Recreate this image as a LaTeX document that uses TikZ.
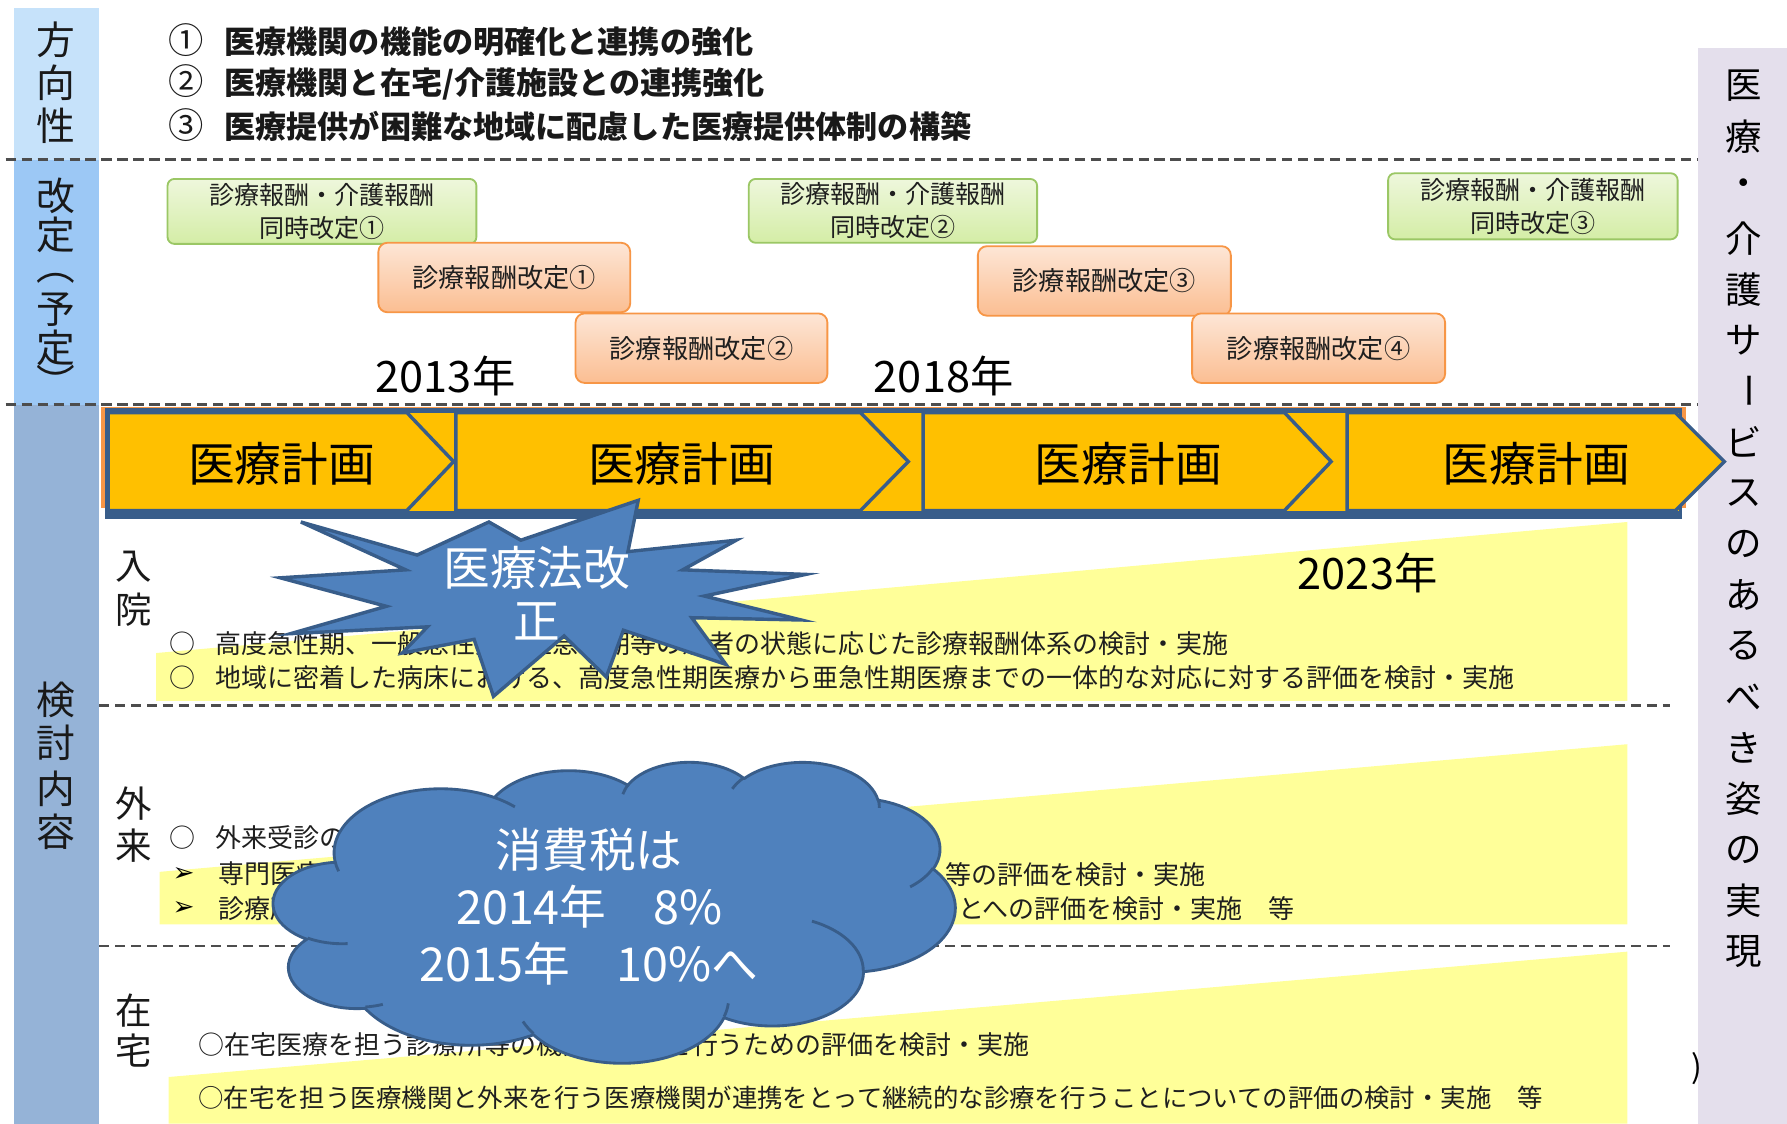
\documentclass[tikz,border=0pt]{standalone}
\usepackage{fontspec}
\newfontfamily\jp{Noto Sans CJK JP}
\newfontfamily\dejavu{DejaVu Sans}
\newcommand\fsz[2]{\fontsize{#1}{#2}\selectfont}
\newcommand\cnum[1]{{\mdseries\fsz{31}{31}#1}}
\definecolor{bandA}{HTML}{C6E2FA}
\definecolor{bandB}{HTML}{9CC8F5}
\definecolor{bandC}{HTML}{95B3D7}
\definecolor{lav}{HTML}{E4DFEC}
\definecolor{navy}{HTML}{385D8A}
\definecolor{gold}{HTML}{FFC000}
\definecolor{wedgec}{HTML}{FFFF99}
\definecolor{starblue}{HTML}{4F81BD}
\definecolor{grnT}{HTML}{EEF7DC}
\definecolor{grnB}{HTML}{D4EDA6}
\definecolor{grnD}{HTML}{9BC765}
\definecolor{orT}{HTML}{FDE6D6}
\definecolor{orB}{HTML}{FBBE92}
\definecolor{orD}{HTML}{F79646}
\definecolor{dashc}{HTML}{4D4D4D}
\definecolor{txtd}{HTML}{1F1F1F}
\tikzset{
  declare function={tp(\t,\a,\b)=atan2(\a*sin(\t),\b*cos(\t))+360*round((\t-atan2(\a*sin(\t),\b*cos(\t)))/360);},
  carc/.style n args={4}{insert path={arc[x radius={#1*0.13843}, y radius={#2*0.061111}, start angle={tp(#3,#1,#2)}, end angle={tp(#3+#4,#1,#2)}]}},
  dline/.style={draw=dashc, line width=2pt, dash pattern=on 9pt off 5pt},
  grnbox/.style={rounded corners=6pt, top color=grnT, bottom color=grnB, draw=grnD, line width=1.6pt, font=\jp\fsz{22}{29}, text=txtd, align=center},
  orbox/.style={rounded corners=8pt, top color=orT, bottom color=orB, draw=orD, line width=1.6pt, font=\jp\fsz{23}{23}, text=txtd},
  chev/.style={fill=gold, draw=navy, line width=3pt, line join=miter},
  chevtxt/.style={font=\jp\fsz{41}{41}, text=black},
  headtxt/.style={font=\jp\bfseries\fsz{27.3}{27.3}, anchor=west, text=black!90},
  bodytxt/.style={font=\jp\fsz{22.8}{22.8}, anchor=west, text=txtd},
  sidetxt/.style={font=\jp\fsz{34}{34}, text=black!90},
  sectxt/.style={font=\jp\fsz{32}{32}, text=black!90},
  yeartxt/.style={font=\jp\fsz{38}{38}, text=black},
  rtxt/.style={font=\jp\fsz{32}{32}, text=black},
  wtxt/.style={font=\jp\fsz{41}{50}, text=white, align=center},
  bullet/.style={font=\dejavu\fsz{23}{23}, text=black},
  cloudline/.style={draw=navy, line width=2.5pt, line join=round},
}
\begin{document}
\begin{tikzpicture}[x=1pt,y=-1pt, every node/.style={inner sep=0pt, outer sep=0pt}]
\useasboundingbox (0,0) rectangle (1568,986);
\fill[white] (0,0) rectangle (1568,986);

% side bands
\fill[bandA] (12,7) rectangle (87,140);
\fill[bandB] (12,140) rectangle (87,355);
\fill[bandC] (12,355) rectangle (87,986);
\fill[lav] (1490,42) rectangle (1568,986);

% yellow wedges
\fill[wedgec] (137,573) -- (1428,458) -- (1428,615) -- (137,615) -- cycle;
\fill[wedgec] (140,765) -- (1428,653) -- (1428,811) -- (140,811) -- cycle;
\fill[wedgec] (148,945) -- (1428,835) -- (1428,986) -- (148,986) -- cycle;

% dashed rules
\draw[dline] (5,140) -- (1490,140);
\draw[dline] (5,355) -- (1490,355);
\draw[dline] (87,619) -- (1465,619);
\draw[dline] (87,830) -- (1465,830);

% left labels
\node[sidetxt] (s1) at (49,35) {方};
\node[sidetxt] (s2) at (49,73) {向};
\node[sidetxt] (s3) at (49,110) {性};
\node[sidetxt] (k1) at (49,172) {改};
\node[sidetxt] (k2) at (49,206) {定};
\node[sidetxt] (k3) at (49,244) {︵};
\node[sidetxt] (k4) at (49,272) {予};
\node[sidetxt] (k5) at (49,305) {定};
\node[sidetxt] (k6) at (49,335) {︶};
\node[sidetxt] (t1) at (49,614) {検};
\node[sidetxt] (t2) at (49,652) {討};
\node[sidetxt] (t3) at (49,692) {内};
\node[sidetxt] (t4) at (49,730) {容};

% right label
\foreach \ch/\yy [count=\i] in {医/75,療/119.7,・/164.4,介/209.1,護/253.8,サ/298.5,ビ/387.9,ス/432.6,の/477.3,あ/522,る/566.7,べ/611.4,き/656.1,姿/700.8,の/745.5,実/790.2,現/834.9}
  \node[rtxt] (r\i) at (1530,\yy) {\ch};
\node[rtxt, rotate=-90] (rbar) at (1530,343.2) {ー};
\node[font=\jp\fsz{28}{28}, text=black] (paren) at (1489,938) {)};

% heading
\node[headtxt] (h1) at (148,35) {\cnum{①}\hspace{18pt}医療機関の機能の明確化と連携の強化};
\node[headtxt] (h2) at (148,72) {\cnum{②}\hspace{18pt}医療機関と在宅/介護施設との連携強化};
\node[headtxt] (h3) at (148,110) {\cnum{③}\hspace{18pt}医療提供が困難な地域に配慮した医療提供体制の構築};

% revision boxes
\node[grnbox, minimum width=271pt, minimum height=57pt] (g1) at (282.5,185.5) {診療報酬・介護報酬\\同時改定①};
\node[grnbox, minimum width=253pt, minimum height=56pt] (g2) at (783.5,185) {診療報酬・介護報酬\\同時改定②};
\node[grnbox, minimum width=254pt, minimum height=58pt] (g3) at (1345,181) {診療報酬・介護報酬\\同時改定③};
\node[orbox, minimum width=221pt, minimum height=61pt] (o1) at (442.5,243.5) {診療報酬改定①};
\node[orbox, minimum width=221pt, minimum height=61pt] (o2) at (615.5,305.5) {診療報酬改定②};
\node[orbox, minimum width=222pt, minimum height=61pt] (o3) at (969,246.5) {診療報酬改定③};
\node[orbox, minimum width=222pt, minimum height=61pt] (o4) at (1157,305.5) {診療報酬改定④};

% years
\node[yeartxt] (y1) at (391,330) {2013年};
\node[yeartxt] (y2) at (828,330) {2018年};
\node[yeartxt] (y3) at (1200,503) {2023年};

% plan band
\fill[orD] (89,357) rectangle (1479,446);
\fill[navy] (92,358) rectangle (1476,455);
\fill[gold] (95,362) rectangle (1473,448);
\foreach \L/\K/\T in {95/357/398, 400/755/797, 810/1127/1168, 1182/1470/1513}
  \draw[chev] (\L,362) -- (\K,362) -- (\T,405) -- (\K,448) -- (\L,448) -- cycle;
\node[chevtxt] (p1) at (247,407) {医療計画};
\node[chevtxt] (p2) at (598,407) {医療計画};
\node[chevtxt] (p3) at (990,407) {医療計画};
\node[chevtxt] (p4) at (1348,407) {医療計画};

% section labels
\node[sectxt] (n1) at (117,497) {入};
\node[sectxt] (n2) at (117,535) {院};
\node[sectxt] (a1) at (117,705) {外};
\node[sectxt] (a2) at (117,742) {来};
\node[sectxt] (z1) at (117,887) {在};
\node[sectxt] (z2) at (117,922) {宅};

% body text
\node[bodytxt] (b1) at (149,565) {○\hspace{17pt}高度急性期、一般急性期、亜急性期等の患者の状態に応じた診療報酬体系の検討・実施};
\node[bodytxt] (b2) at (149,595) {○\hspace{17pt}地域に密着した病床における、高度急性期医療から亜急性期医療までの一体的な対応に対する評価を検討・実施};
\node[bodytxt] (b3) at (149,735) {○\hspace{17pt}外来受診の};
\node[bullet] (bu1) at (161,767) {➢};
\node[bodytxt] (b4) at (192,767) {専門医療};
\node[bullet] (bu2) at (161,797) {➢};
\node[bodytxt] (b5) at (192,797) {診療所};
\node[bodytxt, anchor=east] (b6) at (1058,767) {等の評価を検討・実施};
\node[bodytxt, anchor=east] (b7) at (1136,797) {ことへの評価を検討・実施　等};
\node[bodytxt] (b8) at (174,917) {○在宅医療を担う診療所等の機能強化等を行うための評価を検討・実施};
\node[bodytxt, font=\jp\fsz{22.3}{22.3}] (b9) at (174,963) {○在宅を担う医療機関と外来を行う医療機関が連携をとって継続的な診療を行うことについての評価の検討・実施　等};

% star
\draw[fill=starblue, draw=navy, line width=3pt, line join=miter]
 (264,458) -- (366,487) -- (429,458) -- (457,474) -- (560,439) -- (551,484) -- (646,474) -- (599,500)
 -- (707,504) -- (618,523) -- (703,544) -- (607,542) -- (637,583) -- (547,553) -- (532,594) -- (495,558)
 -- (433,611) -- (416,561) -- (353,573) -- (375,550) -- (255,556) -- (339,532) -- (246,507) -- (356,500) -- cycle;
\node[wtxt] (st1) at (471,498) {医療法改};
\node[wtxt] (st2) at (471,545) {正};

% cloud (PowerPoint cloud geometry)
\draw[cloudline, fill=starblue] (293.99,755.82)
  [carc={675.3}{919.0}{-190.487}{123.781}]
  [carc={533.3}{726.7}{-144.102}{89.945}]
  [carc={436.5}{594.5}{-145.808}{99.723}]
  [carc={485.7}{659.5}{-130.986}{117.242}]
  [carc={533.3}{727.3}{-78.709}{109.027}]
  [carc={677.5}{922.0}{-46.267}{130.269}]
  [carc={578.5}{786.7}{0.625}{114.033}]
  [carc={675.2}{921.5}{22.452}{115.173}]
  [carc={772.0}{1054.3}{66.243}{75.711}]
  [carc={436.0}{591.8}{-274.942}{146.736}]
  [carc={434.5}{594.5}{-246.829}{152.519}] -- cycle;
\draw[cloudline]
  (304.96,827.97) [carc={434.5}{594.5}{86.742}{26.430}]
  (335.90,881.27) [carc={436.0}{591.8}{73.610}{11.447}]
  (468.10,906.88) [carc={675.2}{921.5}{137.624}{14.081}]
  (639.05,880.37) [carc={675.2}{921.5}{6.453}{15.998}]
  (712.44,808.27) [carc={578.5}{786.7}{-70.292}{70.917}]
  (818.61,761.83) [carc={533.3}{727.3}{30.318}{27.752}]
  (770.52,701.16) [carc={485.7}{659.5}{-13.744}{14.859}]
  (642.52,692.15) [carc={485.7}{659.5}{-149.181}{18.195}]
  (546.49,696.84) [carc={436.5}{594.5}{-163.494}{17.686}]
  (433.80,699.73) [carc={675.3}{919.0}{-66.707}{12.319}]
  (297.13,764.49) [carc={675.3}{919.0}{157.654}{11.858}];
\node[wtxt] (ct) at (517,796) {消費税は\\2014年　8\%\\2015年　10\%へ};
\end{tikzpicture}
\end{document}
